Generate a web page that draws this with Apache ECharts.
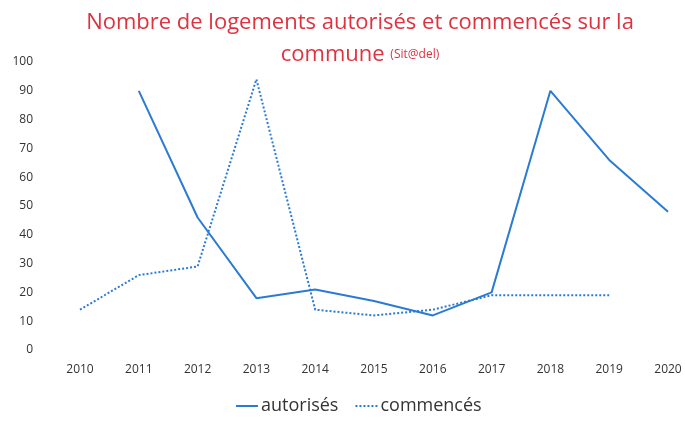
<!DOCTYPE html>
<html>
<head>
<meta charset="utf-8">
<script src="https://cdn.jsdelivr.net/npm/echarts@6/dist/echarts.min.js"></script>
<style>
  html, body { margin: 0; padding: 0; background: #fff; }
  #chart { width: 685px; height: 422px; }
</style>
</head>
<body>
<div id="chart"></div>
<script>
// données Sit@del
const years = ['2010', '2011', '2012', '2013', '2014', '2015', '2016', '2017', '2018', '2019', '2020']
const autorises = [null, 90, 46, 18, 21, 17, 12, 20, 90, 66, 48]
const commences = [14, 26, 29, 94, 14, 12, 14, 19, 19, 19, null]
const yTicks = [0, 100, 10] // min, max, pas

const blue = '#2b7bd3'
const chart = echarts.init(document.getElementById('chart'))

chart.setOption({
    animation: false,
    textStyle: {fontFamily: 'Open Sans'},
    title: {
        text: 'Nombre de logements autorisés et commencés sur la\ncommune {s|(Sit@del)}',
        left: 355,
        top: 2,
        textAlign: 'center',
        textStyle: {
            color: '#e0313f',
            fontSize: 22,
            fontWeight: 'normal',
            lineHeight: 32,
            rich: {
                s: {color: '#e0313f', fontSize: 12, lineHeight: 32},
            },
        },
    },
    legend: {
        bottom: 2,
        left: 230,
        itemWidth: 22,
        itemHeight: 10,
        itemGap: 16,
        itemStyle: {opacity: 0},
        textStyle: {color: '#333', fontSize: 18, padding: [0, 0, 0, -2]},
        data: ['autorisés', 'commencés'],
    },
    grid: {left: 80, right: 17, top: 62, bottom: 72},
    xAxis: {
        type: 'category',
        data: years,
        boundaryGap: false,
        axisLine: {show: false},
        axisTick: {show: false},
        axisLabel: {color: '#333', fontSize: 12, margin: 14},
    },
    yAxis: {
        type: 'value',
        min: yTicks[0],
        max: yTicks[1],
        interval: yTicks[2],
        axisLine: {show: false},
        axisTick: {show: false},
        splitLine: {show: false},
        axisLabel: {color: '#333', fontSize: 12, margin: 47},
    },
    series: [
        {
            name: 'autorisés',
            type: 'line',
            data: autorises,
            symbol: 'none',
            color: blue,
            lineStyle: {color: blue, width: 2},
        },
        {
            name: 'commencés',
            type: 'line',
            data: commences,
            symbol: 'none',
            color: blue,
            lineStyle: {color: blue, width: 2, type: [2, 2]},
        },
    ],
})
</script>
</body>
</html>
